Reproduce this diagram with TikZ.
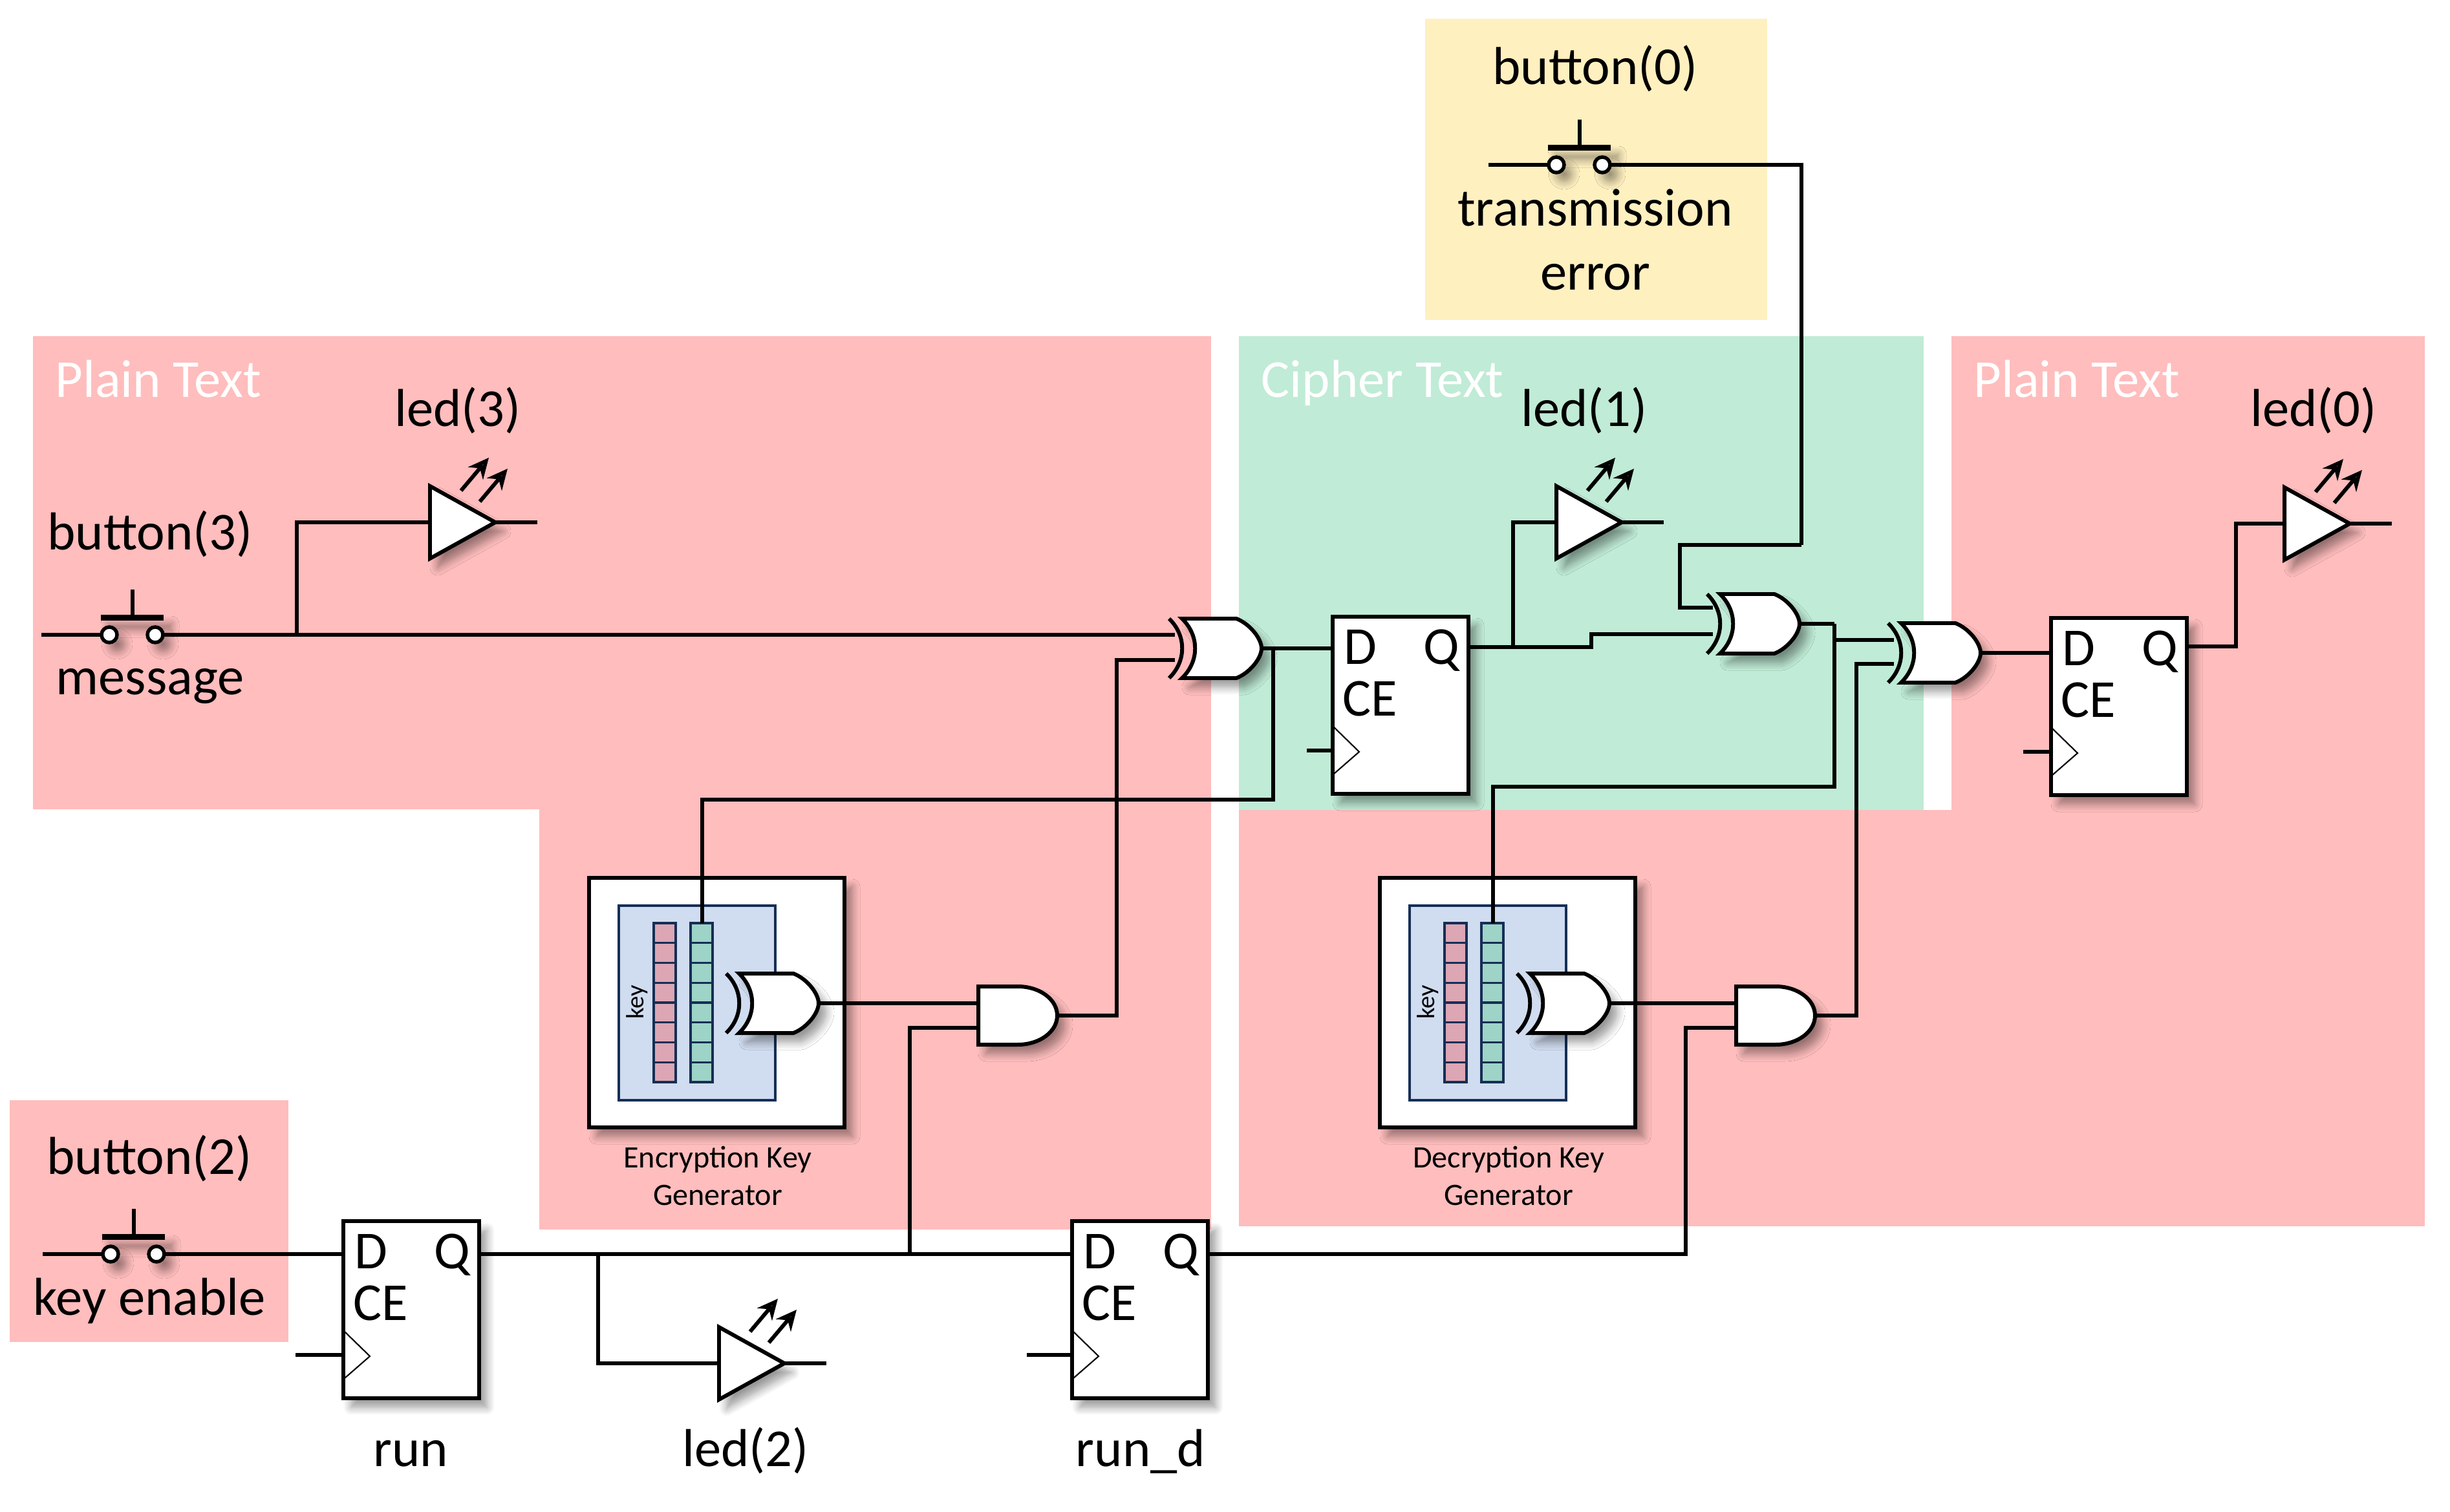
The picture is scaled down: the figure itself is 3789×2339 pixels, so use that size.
\documentclass[tikz,border=0pt]{standalone}
\usepackage{fontspec}
\setmainfont{Carlito}
\usetikzlibrary{calc, positioning}
\usetikzlibrary{arrows.meta}
\usetikzlibrary{shadows.blur}
\definecolor{plainred}{HTML}{FFBDBD}
\definecolor{ciphergreen}{HTML}{C0EBD6}
\definecolor{errorgold}{HTML}{FFF0C0}
\definecolor{keyblue}{HTML}{D0DCEF}
\definecolor{keynavy}{HTML}{152E55}
\definecolor{regred}{HTML}{DCA6B4}
\definecolor{regteal}{HTML}{9ED3C7}
\tikzset{
	softdrop/.style={blur shadow={shadow xshift=1.2mm, shadow yshift=-1.4mm, shadow blur radius=1.2mm, shadow blur steps=8, shadow opacity=40}},
	wire/.style={line width=1.55pt, line join=miter},
	gatebody/.style={line width=1.7pt, fill=white, draw=black, line join=miter, softdrop},
	bigtext/.style={font=\fontsize{23.5}{28}\selectfont, inner sep=0pt},
	smalltext/.style={font=\fontsize{13.7}{16}\selectfont, inner sep=0pt},
	pics/xorgate/.style n args={2}{code={
		\draw[line width=1.7pt] (0,-46) .. controls (27,-20) and (27,20) .. (0,46);
		\draw[gatebody] (20,-46) .. controls (47,-20) and (47,20) .. (20,46) -- (104,46)
			.. controls (125,38) and (143,15) .. (143,0) .. controls (143,-15) and (125,-38) .. (104,-46) -- cycle;
		\coordinate (-a) at (9,#1);
		\coordinate (-b) at (9,#2);
		\coordinate (-o) at (143,0);
	}},
	pics/andgate/.style={code={
		\draw[gatebody] (0,-45) -- (61,-45) .. controls (95,-45) and (122,-25) .. (122,0)
			.. controls (122,25) and (95,45) .. (61,45) -- (0,45) -- cycle;
		\coordinate (-a) at (0,-19);
		\coordinate (-b) at (0,19);
		\coordinate (-o) at (122,0);
	}},
	pics/flipflop/.style n args={3}{code={
		\draw[gatebody, line width=1.8pt] (0,0) rectangle (210,274);
		\draw[line width=0.6pt] (2,171) -- (41,209) -- (2,243);
		\draw[wire] (0,207) -- (#3,207);
		\node[bigtext, anchor=base west] (-dtext) at (17,73) {D};
		\node[bigtext, anchor=base east] (-qtext) at (197,73) {Q};
		\node[bigtext, anchor=base west] (-cetext) at (15,153) {CE};
		\coordinate (-d) at (0,#1);
		\coordinate (-q) at (210,#2);
	}},
	pics/pushbutton/.style={code={
		\draw[wire] (-105,0) -- (0,0);
		\fill[softdrop] (-13,-31) rectangle (84,-22);
		\draw[wire] (36,-70) -- (36,-22);
		\draw[wire, fill=white, softdrop] (0,0) circle (12);
		\draw[wire, fill=white, softdrop] (71,0) circle (12);
		\coordinate (-r) at (84,0);
	}},
	pics/ledgate/.style={code={
		\draw[wire] (95,0) -- (166,0);
		\draw[gatebody] (0,-56) -- (101,0) -- (0,56) -- cycle;
		\draw[line width=1.7pt, -{Stealth[length=9pt, width=8.5pt]}] (48,-49) -- (91,-100);
		\draw[line width=1.7pt, -{Stealth[length=9pt, width=8.5pt]}] (77,-32) -- (120,-83);
		\coordinate (-in) at (0,0);
	}},
	pics/keygen/.style={code={
		\draw[gatebody, line width=1.9pt] (0,0) rectangle (395,386);
		\draw[draw=keynavy, fill=keyblue, line width=1.4pt] (46,43) rectangle (288,344);
		\foreach \k in {0,...,7} {
			\draw[draw=keynavy, fill=regred, line width=0.9pt] (100,70+\k*30.75) rectangle (134,70+\k*30.75+30.75);
			\draw[draw=keynavy, fill=regteal, line width=0.9pt] (157,70+\k*30.75) rectangle (191,70+\k*30.75+30.75);
		}
		\node[font=\fontsize{11}{13}\selectfont, inner sep=0pt, rotate=90] (-key) at (74,192) {key};
		\pic (-gate) at (212,194) {xorgate={-20}{20}};
		\coordinate (-t) at (175,70);
		\coordinate (-o) at (355,194);
	}},
}
\begin{document}
\begin{tikzpicture}[x=0.01cm,y=-0.01cm]
	\useasboundingbox (0,0) rectangle (3789,2339);

	% coloured regions behind the circuit
	\fill[plainred] (51,520) rectangle (1873,1252);
	\fill[plainred] (834,1252) rectangle (1873,1902);
	\fill[plainred] (15,1702) rectangle (446,2076);
	\fill[plainred] (1916,1253) rectangle (3750,1897);
	\fill[plainred] (3018,520) rectangle (3750,1253);
	\fill[ciphergreen] (1916,520) rectangle (2975,1253);
	\fill[errorgold] (2204,29) rectangle (2733,495);

	\node[bigtext, white, anchor=base west] (plainA) at (85,614) {Plain Text};
	\node[bigtext, white, anchor=base west] (cipher) at (1950,614) {Cipher Text};
	\node[bigtext, white, anchor=base west] (plainB) at (3052,614) {Plain Text};

	% key generators
	\pic (keyE) at (911,1358) {keygen};
	\pic (keyD) at (2134,1358) {keygen};
	\node[smalltext, anchor=base] (encA) at (1110,1806) {Encryption Key};
	\node[smalltext, anchor=base] (encB) at (1110,1864) {Generator};
	\node[smalltext, anchor=base] (decA) at (2333,1806) {Decryption Key};
	\node[smalltext, anchor=base] (decB) at (2333,1864) {Generator};

	% junctions and bends of the wires
	\coordinate (jmsg) at (459,982);
	\coordinate (jenc) at (1969,1003);
	\coordinate (bendA) at (1969,1237);
	\coordinate (bendB) at (1727,1021);
	\coordinate (jcipher) at (2340,1001);
	\coordinate (stepA) at (2461,1001);
	\coordinate (stepB) at (2461,981);
	\coordinate (bendC) at (2837,965);
	\coordinate (jdec) at (2837,990);
	\coordinate (bendD) at (2837,1217);
	\coordinate (bendE) at (2786,843);
	\coordinate (bendF) at (2598,843);
	\coordinate (bendG) at (2871,1027);
	\coordinate (bendH) at (3458,1000);
	\coordinate (jrunA) at (925,1940);
	\coordinate (jrunB) at (1407,1940);
	\coordinate (bendI) at (2607,1590);

	% wires go under the gates
	\draw[wire] (jmsg) -- (1817,982);
	\draw[wire] (jenc) -- (bendA) -| (keyE-t);
	\draw[wire] (jcipher) |- (2407,808);
	\draw[wire] (bendC) -- (jdec) -- (bendD) -| (keyD-t);
	\draw[wire] (jdec) -- (2929,990);
	\draw[wire] (bendE) -- (bendF) -- (2598,940) -- (2649,940);
	\draw[wire] (2491,255) -| (bendE);
	\draw[wire] (jmsg) |- (665,808);
	\draw[wire] (jrunA) |- (1112,2109);

	% gates
	\pic (xorA) at (1808,1003) {xorgate={-21}{18}};
	\pic (xorB) at (2640,965) {xorgate={-25}{16}};
	\pic (xorC) at (2920,1010) {xorgate={-20}{17}};
	\pic (andE) at (1513,1571) {andgate};
	\pic (andD) at (2685,1571) {andgate};

	% flip flops
	\pic (ffB) at (2061,954) {flipflop={49}{47}{-40}};
	\pic (ffC) at (3172,956) {flipflop={54}{44}{-43}};
	\pic (ffR) at (531,1889) {flipflop={51}{51}{-74}};
	\pic (ffS) at (1658,1889) {flipflop={51}{51}{-70}};

	% push buttons
	\pic (swC) at (169,982) {pushbutton};
	\pic (swB) at (171,1940) {pushbutton};
	\pic (swA) at (2407,255) {pushbutton};

	% leds
	\pic (ledD) at (665,808) {ledgate};
	\pic (ledB) at (2407,808) {ledgate};
	\pic (ledA) at (3533,810) {ledgate};
	\pic (ledC) at (1112,2109) {ledgate};

	% the remaining connections
	\draw[wire] (swC-r) -- (jmsg);
	\draw[wire] (swB-r) -- (ffR-d);
	\draw[wire] (xorA-o) -- (ffB-d);
	\draw[wire] (ffB-q) -- (stepA) -- (stepB) -- (xorB-b);
	\draw[wire] (xorB-o) -- (bendC);
	\draw[wire] (xorC-o) -- (ffC-d);
	\draw[wire] (keyE-o) -- (andE-a);
	\draw[wire] (keyD-o) -- (andD-a);
	\draw[wire] (andE-o) -| (bendB) -- (xorA-b);
	\draw[wire] (andD-o) -| (bendG) -- (xorC-b);
	\draw[wire] (ffC-q) -- (bendH) |- (ledA-in);
	\draw[wire] (ffR-q) -- (ffS-d);
	\draw[wire] (jrunB) |- (andE-b);
	\draw[wire] (ffS-q) -| (bendI) -- (andD-b);

	% labels
	\node[bigtext, anchor=base] (lblB3) at (232,850) {button(3)};
	\node[bigtext, anchor=base] (lblMsg) at (232,1074) {message};
	\node[bigtext, anchor=base] (lblB2) at (231,1816) {button(2)};
	\node[bigtext, anchor=base] (lblKey) at (231,2034) {key enable};
	\node[bigtext, anchor=base] (lblB0) at (2467,130) {button(0)};
	\node[bigtext, anchor=base] (lblTx) at (2467,349) {transmission};
	\node[bigtext, anchor=base] (lblErr) at (2467,448) {error};
	\node[bigtext, anchor=base] (lblL3) at (708,659) {led(3)};
	\node[bigtext, anchor=base] (lblL1) at (2450,659) {led(1)};
	\node[bigtext, anchor=base] (lblL0) at (3578,659) {led(0)};
	\node[bigtext, anchor=base] (lblL2) at (1153,2268) {led(2)};
	\node[bigtext, anchor=base] (lblRun) at (635,2268) {run};
	\node[bigtext, anchor=base] (lblRunD) at (1764,2268) {run\_d};
\end{tikzpicture}
\end{document}
